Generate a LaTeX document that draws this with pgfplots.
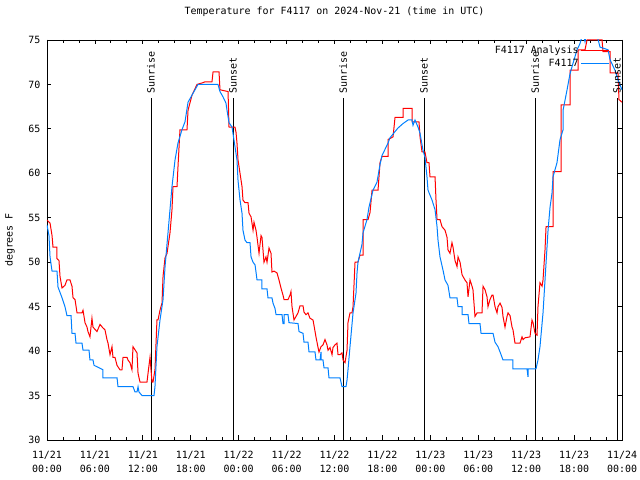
\documentclass[border=0pt]{standalone}
\usepackage{pgfplots}
\pgfplotsset{compat=1.18}
\usepackage{pgfplotstable}
\usepackage{fontspec}
\setmainfont{DejaVu Sans Mono}
\definecolor{obsblue}{RGB}{0,128,255}
\definecolor{anared}{RGB}{255,0,0}

\pgfplotstableread{
h F
0 54.2
0.25 53.0
0.38 50.6
0.63 49.0
1.25 49.0
1.38 47.2
1.88 46.0
2.25 45.0
2.50 44.0
3.01 44.0
3.13 42.0
3.51 42.0
3.63 40.9
4.38 40.9
4.51 40.1
5.26 40.1
5.38 39.0
5.76 39.0
5.89 38.4
7.01 37.9
7.01 37.0
8.77 37.0
8.89 36.0
10.77 36.0
11.02 35.4
11.27 35.4
11.40 36.0
11.52 35.4
11.90 35.0
13.40 35.0
13.52 36.0
13.77 40.5
14.15 43.5
14.53 45.8
14.78 49.5
15.15 53.3
15.40 55.9
15.65 58.5
16.03 61.5
16.40 63.4
16.90 64.9
17.28 65.8
17.66 68.0
18.28 69.0
18.91 70.0
21.41 70.0
21.66 69.2
22.04 68.6
22.41 67.9
22.54 67.1
22.79 65.7
23.17 65.2
23.54 63.0
23.79 61.5
23.92 59.2
24.17 57.0
24.42 55.5
24.54 53.6
24.79 52.5
25.04 52.2
25.42 52.2
25.55 50.6
25.80 50.0
26.05 49.7
26.17 48.9
26.30 48.0
26.92 48.0
26.92 47.0
27.55 47.0
27.67 46.0
28.17 46.0
28.30 45.4
28.55 44.8
28.68 44.1
29.43 44.1
29.55 43.1
29.68 43.1
29.68 44.1
30.18 44.1
30.30 43.2
31.43 43.1
31.56 42.2
32.06 42.0
32.18 41.0
32.68 41.0
32.81 39.9
33.56 39.9
33.68 39.0
34.19 39.0
34.31 39.9
34.31 39.0
34.56 39.0
34.69 38.1
35.19 38.1
35.31 37.0
36.69 37.0
36.94 36.0
37.44 36.0
37.57 36.75
37.69 37.9
37.94 40.5
38.32 44.3
38.69 46.5
38.82 48.8
38.94 50.0
39.44 52.0
39.57 53.3
40.07 54.8
40.32 56.2
40.82 58.1
41.32 59.0
41.70 61.0
41.95 62.0
42.70 63.4
42.95 64.0
43.58 64.7
43.95 65.1
44.58 65.6
45.21 66.0
45.71 66.0
45.83 65.4
46.08 66.0
46.46 65.2
46.71 64.5
47.08 62.6
47.33 61.8
47.58 59.6
47.71 58.1
48.21 57.0
48.59 55.9
48.84 54.0
48.96 52.5
49.21 50.6
49.59 49.1
49.84 48.0
50.21 47.4
50.46 46.0
51.34 46.0
51.47 45.0
51.97 45.0
51.97 44.1
52.72 44.1
52.84 43.1
54.22 43.1
54.35 42.0
55.85 42.0
56.10 41.0
56.47 40.5
56.73 39.9
57.10 39.0
58.35 39.0
58.35 38.0
60.11 38.0
60.23 37.1
60.23 38.0
61.23 38.0
61.48 39.0
61.73 40.5
62.11 44.3
62.36 48.0
62.61 51.7
62.74 53.6
62.99 56.2
63.24 57.8
63.36 59.6
63.86 61.2
64.24 63.8
64.62 64.9
64.62 67.1
65.12 69.4
65.49 71.2
65.87 72.4
66.37 73.9
66.74 74.6
67.12 75.8
67.37 74.8
67.62 76.0
68.00 75.2
68.37 76.0
68.87 75.5
69.25 74.2
70.25 73.9
70.50 72.8
71.12 71.6
71.50 70.5
72.00 69.4
}\obs

\pgfplotstableread{
h F
0 54.75
0.38 54.4
0.63 53.0
0.75 51.7
1.25 51.7
1.25 50.4
1.50 50.2
1.63 48.4
1.88 47.1
2.25 47.4
2.50 48.0
2.88 48.0
3.13 47.3
3.26 46.0
3.51 45.8
3.76 44.3
4.38 44.3
4.51 44.6
4.76 43.2
5.01 42.7
5.13 42.2
5.38 41.6
5.63 43.7
5.76 42.7
6.26 42.2
6.64 43.0
7.01 42.6
7.26 42.4
7.51 41.3
7.64 40.9
7.89 39.6
8.14 40.5
8.26 39.3
8.51 39.3
8.77 38.4
9.14 37.9
9.39 37.9
9.52 39.3
10.02 39.3
10.14 39.0
10.39 38.7
10.64 37.9
10.77 40.5
11.27 39.8
11.40 37.5
11.65 36.5
12.52 36.5
12.65 37.5
12.90 39.3
13.15 36.5
13.27 36.5
13.52 37.9
13.77 43.5
13.90 43.5
14.15 44.6
14.40 45.4
14.53 48.4
14.78 50.5
15.03 51.0
15.40 53.3
15.65 55.9
15.78 58.5
16.28 58.5
16.40 60.7
16.65 64.9
17.53 64.9
17.66 67.1
18.16 68.8
18.78 70.0
19.53 70.2
19.78 70.3
20.66 70.3
20.79 71.4
21.54 71.4
21.66 69.4
22.67 69.2
22.79 65.2
23.54 65.2
23.67 64.6
23.79 63.4
23.92 61.5
24.17 60.0
24.42 58.5
24.54 57.0
24.79 56.7
25.17 56.7
25.30 55.5
25.55 55.1
25.80 53.6
25.92 54.5
26.17 53.6
26.30 52.8
26.55 51.0
26.80 53.0
26.92 52.8
27.17 50.0
27.42 50.6
27.55 50.0
27.80 51.6
28.05 51.0
28.17 48.9
28.43 49.0
28.80 48.8
29.05 48.0
29.30 47.1
29.55 46.3
29.68 45.8
30.18 45.8
30.43 46.3
30.55 46.7
30.68 45.0
30.93 43.5
31.18 43.9
31.43 44.3
31.68 45.1
32.06 45.1
32.18 44.4
32.43 44.1
32.68 44.3
32.93 43.7
33.31 43.5
33.43 42.9
33.68 41.6
33.94 40.4
34.06 39.9
34.31 40.5
34.56 40.7
34.81 41.3
35.06 40.7
35.19 40.1
35.44 40.4
35.69 39.6
35.81 40.4
36.06 40.7
36.31 40.9
36.44 39.6
36.69 39.6
36.94 39.8
37.07 39.0
37.32 38.7
37.57 40.1
37.69 43.2
37.94 44.3
38.19 44.3
38.32 45.0
38.57 50.0
38.94 50.0
39.19 50.8
39.57 50.8
39.57 54.8
40.20 54.8
40.45 55.6
40.70 58.1
41.45 58.1
41.70 61.2
41.95 61.9
42.70 61.9
42.70 63.8
43.33 64.1
43.58 66.3
44.58 66.3
44.58 67.3
45.71 67.3
45.71 65.8
46.58 65.8
46.71 64.1
46.96 62.4
47.33 62.4
47.58 61.2
47.83 61.2
47.96 59.6
48.59 59.6
48.71 57.0
48.84 54.8
49.21 54.8
49.46 54.0
49.84 53.6
50.09 52.8
50.21 51.4
50.46 51.0
50.71 52.2
50.84 51.7
51.09 50.2
51.34 49.5
51.47 50.6
51.72 50.0
51.97 48.6
52.09 48.4
52.34 48.0
52.59 47.7
52.72 46.1
52.97 48.0
53.22 47.3
53.34 46.9
53.59 43.9
53.85 44.3
54.47 44.3
54.60 47.3
54.85 46.9
55.10 46.1
55.22 45.0
55.47 45.8
55.72 46.3
55.85 46.3
56.10 45.0
56.35 44.3
56.47 45.0
56.73 45.4
56.98 44.9
57.10 43.9
57.35 42.7
57.60 43.9
57.73 44.3
57.98 44.0
58.23 42.7
58.35 42.4
58.60 40.9
59.23 40.9
59.48 41.6
59.61 41.3
59.86 41.5
60.48 41.6
60.73 43.5
60.86 43.2
61.11 42.0
61.36 41.8
61.48 45.0
61.73 47.7
61.99 47.3
62.11 48.0
62.36 51.4
62.49 54.0
63.36 54.0
63.36 60.2
64.37 60.2
64.37 67.7
65.49 67.7
65.49 71.6
66.49 71.6
66.49 73.9
67.37 73.9
67.62 75.0
69.50 75.0
69.62 73.7
70.50 73.7
70.50 71.3
71.50 71.3
71.62 68.3
72.00 68.0
}\ana

\begin{document}
\begin{tikzpicture}[font=\fontsize{10}{11.5}\selectfont]
\useasboundingbox (-47bp,-40bp) rectangle (593bp,440bp);
\begin{axis}[
  at={(0,0)}, anchor=south west,
  scale only axis, width=575bp, height=400bp,
  xmin=0, xmax=72, ymin=30, ymax=75,
  xtick={0,6,...,72},
  xticklabels={11/21\\00:00,11/21\\06:00,11/21\\12:00,11/21\\18:00,11/22\\00:00,11/22\\06:00,11/22\\12:00,11/22\\18:00,11/23\\00:00,11/23\\06:00,11/23\\12:00,11/23\\18:00,11/24\\00:00},
  minor xtick={0,2,...,72},
  ytick={30,35,...,75},
  tick align=inside,
  major tick length=4.5bp, minor tick length=2.7bp,
  tick style={black, line width=0.8bp},
  axis line style={line width=0.9bp},
  xticklabel style={align=center, font=\fontsize{10}{13.5}\selectfont, yshift=-8bp},
  yticklabel style={xshift=-3bp},
  /pgf/number format/assume math mode=true,
  title={Temperature for F4117 on 2024-Nov-21 (time in UTC)},
  title style={at={(axis description cs:0.5,1)}, anchor=center, yshift=22bp},
  ylabel={degrees F},
  ylabel style={at={(axis description cs:-0.0643,0.5)}, anchor=center},
  legend style={draw=none, fill=none, at={(axis description cs:0.979,0.99)}, anchor=north east,
    inner sep=0pt, row sep=0bp, font=\fontsize{10}{11.5}\selectfont, legend cell align=right},
  legend plot pos=right,
  legend image code/.code={\draw[#1] (0bp,0bp) -- (28bp,0bp);},
  clip=true,
]
\addplot[black, line width=0.9bp, forget plot] coordinates {(13.02,30) (13.02,68.5)};
\addplot[black, line width=0.9bp, forget plot] coordinates {(23.29,30) (23.29,68.5)};
\addplot[black, line width=0.9bp, forget plot] coordinates {(37.07,30) (37.07,68.5)};
\addplot[black, line width=0.9bp, forget plot] coordinates {(47.21,30) (47.21,68.5)};
\addplot[black, line width=0.9bp, forget plot] coordinates {(61.11,30) (61.11,68.5)};
\addplot[black, line width=0.9bp, forget plot] coordinates {(71.38,30) (71.38,68.5)};
\addplot[anared, line width=1bp] table[x=h, y=F] {\ana};
\addlegendentry{F4117 Analysis}
\addplot[obsblue, line width=1bp] table[x=h, y=F] {\obs};
\addlegendentry{F4117}
\node[rotate=90, anchor=west, inner sep=0pt] at (axis cs:13.02,69.0) {Sunrise};
\node[rotate=90, anchor=west, inner sep=0pt] at (axis cs:23.29,69.0) {Sunset};
\node[rotate=90, anchor=west, inner sep=0pt] at (axis cs:37.07,69.0) {Sunrise};
\node[rotate=90, anchor=west, inner sep=0pt] at (axis cs:47.21,69.0) {Sunset};
\node[rotate=90, anchor=west, inner sep=0pt] at (axis cs:61.11,69.0) {Sunrise};
\node[rotate=90, anchor=west, inner sep=0pt] at (axis cs:71.38,69.0) {Sunset};
\end{axis}
\end{tikzpicture}
\end{document}
